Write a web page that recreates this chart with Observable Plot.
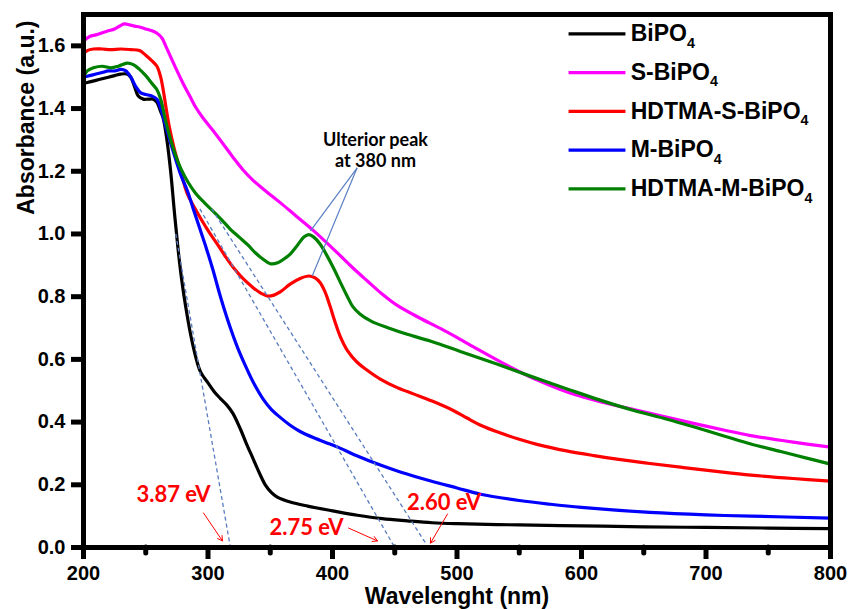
<!DOCTYPE html>
<html>
<head>
<meta charset="utf-8">
<script src="https://cdn.jsdelivr.net/npm/d3@7"></script>
<script src="https://cdn.jsdelivr.net/npm/@observablehq/plot@0.6"></script>
<style>
  html, body { margin: 0; padding: 0; background: #fff; }
  #chart { width: 852px; height: 609px; }
</style>
</head>
<body>
<div id="chart"></div>
<script>
// ---- Axis ticks ----
const xTicks = [200, 300, 400, 500, 600, 700, 800];
const xMinorTicks = [250, 350, 450, 550, 650, 750];
const yTicks = [0, 0.2, 0.4, 0.6, 0.8, 1.0, 1.2, 1.4, 1.6];

// ---- Series names and colours ----
const seriesNames = ["BiPO4", "S-BiPO4", "HDTMA-S-BiPO4", "M-BiPO4", "HDTMA-M-BiPO4"];
const seriesColors = ["#000000", "#ff00ff", "#ff0000", "#0000ff", "#008000"];

// ---- BiPO4 (black) ----
const bipoW = [200,205,210,215,220,225,230,235,238,241,244,248,252,256,259,262,264,267,270,273,276,279,282,286,290,294,300,305,310,315,320,326,331,336,341,346,351,356,366,380,400,420,440,460,480,500,550,600,650,700,750,800];
const bipoA = [1.48,1.485,1.49,1.495,1.50,1.505,1.51,1.51,1.50,1.47,1.44,1.43,1.43,1.43,1.42,1.39,1.37,1.30,1.20,1.07,0.95,0.85,0.77,0.68,0.61,0.56,0.525,0.497,0.475,0.455,0.428,0.378,0.33,0.285,0.24,0.20,0.175,0.16,0.145,0.132,0.117,0.103,0.092,0.085,0.079,0.076,0.072,0.069,0.066,0.064,0.062,0.060];

// ---- S-BiPO4 (magenta) ----
const sW = [200,205,210,215,220,225,230,233,237,241,245,250,255,259,263,266,270,274,280,286,290,296,304,312,320,328,336,347,358,370,385,398,406,416,428,440,452,470,487,503,519,535,549,565,589,615,642,668,690,715,736,770,800];
const sA = [1.615,1.63,1.635,1.642,1.648,1.654,1.665,1.67,1.667,1.663,1.66,1.654,1.648,1.64,1.625,1.60,1.565,1.53,1.48,1.435,1.405,1.37,1.33,1.288,1.245,1.205,1.172,1.135,1.10,1.06,1.01,0.962,0.932,0.893,0.85,0.808,0.772,0.732,0.698,0.663,0.627,0.592,0.563,0.533,0.495,0.465,0.44,0.416,0.396,0.374,0.357,0.336,0.32];

// ---- HDTMA-S-BiPO4 (red) ----
const hsW = [200,203,208,215,222,230,238,245,250,255,259,262,264,266,269,273,278,283.5,289,294,301,307.6,314,320.5,328,336.5,343,348,353,358,366,374,381,386,390,394,398,402,406,412,420,428,438,452,465,480,497,508,519,535,550,565,588,610,630,655,682,710,736,770,800];
const hsA = [1.575,1.585,1.59,1.59,1.588,1.59,1.588,1.585,1.57,1.552,1.535,1.50,1.46,1.41,1.34,1.27,1.20,1.127,1.085,1.05,1.005,0.967,0.928,0.892,0.858,0.828,0.81,0.802,0.805,0.815,0.84,0.858,0.866,0.86,0.845,0.815,0.77,0.72,0.675,0.628,0.59,0.565,0.538,0.51,0.49,0.467,0.437,0.413,0.39,0.365,0.345,0.328,0.308,0.293,0.281,0.268,0.255,0.242,0.231,0.22,0.212];

// ---- M-BiPO4 (blue) ----
const mW = [200,205,210,215,220,225,230,234,238,242,246,250,255,259,262,267,272,278,283.5,289,294,299,304,310,318,324,330,337,344,351,358,366,374,385,398,406,420,439,455,479,500,519,550,575,600,655,700,736,800];
const mA = [1.50,1.505,1.51,1.515,1.52,1.52,1.525,1.52,1.50,1.47,1.45,1.445,1.44,1.43,1.40,1.33,1.264,1.19,1.137,1.07,1.01,0.95,0.885,0.80,0.70,0.635,0.58,0.522,0.475,0.44,0.415,0.39,0.37,0.35,0.33,0.317,0.292,0.262,0.24,0.212,0.19,0.17,0.15,0.138,0.128,0.112,0.104,0.10,0.094];

// ---- HDTMA-M-BiPO4 (green) ----
const hmW = [200,203,208,215,222,228,235,240,245,250,255,259,262,266,270,274,278,284,290,297,304,311,318,325,332,338,344,350,356,361,366,372,377,381,385,390,395,401,407,412,416,422,431,445,460,479,505,532,560,589,615,642,668,690,715,736,760,780,800];
const hmA = [1.50,1.52,1.53,1.535,1.53,1.535,1.545,1.54,1.525,1.505,1.48,1.46,1.43,1.36,1.30,1.25,1.21,1.165,1.13,1.10,1.073,1.045,1.015,0.99,0.965,0.94,0.92,0.905,0.908,0.92,0.936,0.965,0.99,0.998,0.99,0.968,0.935,0.89,0.84,0.80,0.77,0.745,0.722,0.70,0.68,0.658,0.622,0.585,0.545,0.505,0.47,0.437,0.41,0.385,0.355,0.33,0.306,0.286,0.266];

const seriesW = [bipoW, sW, hsW, mW, hmW];
const seriesA = [bipoA, sA, hsA, mA, hmA];

// ---- Band-gap tangent lines (dashed) ----
const tangentW1 = [274.1, 293.5, 303];
const tangentA1 = [1.0, 1.08, 1.08];
const tangentW2 = [318, 450, 477];
const tangentA2 = [0, 0, 0];

// ---- Band-gap labels and arrows ----
const gapLabels = ["3.87 eV", "2.75 eV", "2.60 eV"];
const gapLabelW = [272.3, 379.1, 489.6];
const gapLabelA = [0.1675, 0.062, 0.142];
const arrowW1 = [296.4, 412.9, 492.4];
const arrowA1 = [0.110, 0.062, 0.107];
const arrowW2 = [311.6, 436.1, 478.7];
const arrowA2 = [0.021, 0.021, 0.014];

// ---- Peak annotation ----
const peakText = ["Ulterior peak\nat 380 nm"];
const peakTextW = [434.5];
const peakTextA = [1.269];
const pointerW1 = [419.8, 419.8];
const pointerA1 = [1.211, 1.211];
const pointerW2 = [382.3, 383.7];
const pointerA2 = [1.0096, 0.866];

// ---- Legend layout (data units) ----
const legendX1 = 589.6, legendX2 = 635.3, legendTextX = 639.5;
const legendTop = 1.638, legendStep = 0.1235;

// Build tidy table
const rows = seriesNames.flatMap((name, s) =>
  seriesW[s].map((w, i) => ({series: name, w, a: seriesA[s][i]})));
const legendRows = seriesNames.map((name, i) => ({name, color: seriesColors[i], y: legendTop - i * legendStep}));
const tangents = tangentW1.map((w, i) => ({x1: w, y1: tangentA1[i], x2: tangentW2[i], y2: tangentA2[i]}));
const arrows = arrowW1.map((w, i) => ({x1: w, y1: arrowA1[i], x2: arrowW2[i], y2: arrowA2[i]}));
const gapRows = gapLabels.map((t, i) => ({t, x: gapLabelW[i], y: gapLabelA[i]}));
const pointers = pointerW1.map((w, i) => ({x1: w, y1: pointerA1[i], x2: pointerW2[i], y2: pointerA2[i]}));
const peakRows = peakText.map((t, i) => ({t, x: peakTextW[i], y: peakTextA[i]}));

const boldFont = "'Liberation Sans', Arial, sans-serif";
const annFont = "Lato, 'Open Sans', sans-serif";

const chart = Plot.plot({
  width: 852,
  height: 609,
  marginLeft: 83,
  marginRight: 22,
  marginTop: 14,
  marginBottom: 62,
  style: {fontFamily: boldFont, fontWeight: "bold", color: "#000", background: "#fff"},
  x: {domain: [200, 800]},
  y: {domain: [0, 1.7]},
  color: {domain: seriesNames, range: seriesColors},
  marks: [
    Plot.line(rows, {x: "w", y: "a", z: "series", stroke: "series", strokeWidth: 3.2, curve: "catmull-rom"}),
    Plot.link(tangents, {x1: "x1", y1: "y1", x2: "x2", y2: "y2", stroke: "#5a7dbf", strokeWidth: 1.3, strokeDasharray: "4,3"}),
    Plot.link(pointers, {x1: "x1", y1: "y1", x2: "x2", y2: "y2", stroke: "#5a80c4", strokeWidth: 1.2}),
    Plot.text(peakRows, {x: "x", y: "y", text: "t", fontFamily: annFont, fontWeight: "bold", fontSize: 18, lineHeight: 1.15, fill: "#000"}),
    Plot.arrow(arrows, {x1: "x1", y1: "y1", x2: "x2", y2: "y2", stroke: "#ff0000", strokeWidth: 1, headLength: 8}),
    Plot.text(gapRows, {x: "x", y: "y", text: "t", fontFamily: annFont, fontWeight: "bold", fontSize: 22, fill: "#ff0000"}),
    // legend
    Plot.link(legendRows, {x1: legendX1, x2: legendX2, y1: "y", y2: "y", stroke: "color", strokeWidth: 3.2}),
    Plot.text(legendRows, {x: legendTextX, y: "y", text: "name", textAnchor: "start", fontSize: 23, fontWeight: "bold", fill: "#000", fontFamily: boldFont, letterSpacing: 1}),
    // frame & axes
    Plot.frame({stroke: "#000", strokeWidth: 5}),
    Plot.axisY({ticks: yTicks, tickFormat: d3.format(".1f"), tickSize: 12, tickPadding: 6, strokeWidth: 5, fontSize: 20, fontWeight: "bold", label: null}),
    Plot.axisX({ticks: xTicks, tickFormat: d3.format("d"), tickSize: 12, tickPadding: 6, strokeWidth: 5, fontSize: 20, fontWeight: "bold", label: null}),
    Plot.axisX({ticks: xMinorTicks, tickFormat: () => "", tickSize: 6, strokeWidth: 5, strokeLinecap: "round", label: null}),
    Plot.text(["Absorbance (a.u.)"], {frameAnchor: "top-left", rotate: -90, textAnchor: "end", lineAnchor: "middle", dx: -57, dy: 6, fontSize: 23, fontWeight: "bold", letterSpacing: 1.3, fill: "#000"}),
    Plot.text(["Wavelenght (nm)"], {frameAnchor: "bottom", lineAnchor: "middle", dy: 49, fontSize: 23, fontWeight: "bold", letterSpacing: 1, fill: "#000"})
  ]
});

// Render subscript "4" in chemical formulae
d3.select(chart).selectAll("text").each(function() {
  const el = this;
  if (el.querySelector("tspan")) return;
  const t = el.textContent;
  if (/PO4$/.test(t)) {
    el.textContent = t.slice(0, -1);
    const sub = document.createElementNS("http://www.w3.org/2000/svg", "tspan");
    sub.setAttribute("dy", "0.45em");
    sub.setAttribute("font-size", "0.62em");
    sub.textContent = "4";
    el.appendChild(sub);
  }
});

document.getElementById("chart").appendChild(chart);
</script>
</body>
</html>
